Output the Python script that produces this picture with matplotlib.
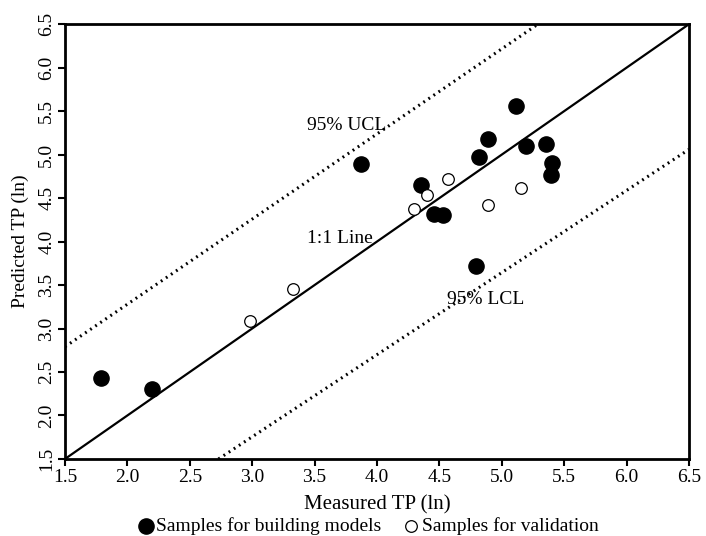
import matplotlib
matplotlib.use("Agg")
import matplotlib.pyplot as plt

plt.rcParams['font.family'] = ['Liberation Serif', 'DejaVu Serif']

# samples used to build the models (filled)
build_x = [1.79, 2.20, 3.87, 4.35, 4.46, 4.53, 4.82, 4.89, 5.11, 5.19, 5.35, 5.40, 5.39, 4.79]
build_y = [2.43, 2.31, 4.89, 4.65, 4.32, 4.31, 4.97, 5.18, 5.56, 5.10, 5.12, 4.90, 4.77, 3.72]

# validation samples (open)
valid_x = [2.98, 3.33, 4.30, 4.40, 4.57, 4.89, 5.15]
valid_y = [3.09, 3.46, 4.37, 4.54, 4.72, 4.42, 4.61]

# reference lines
one_x = [1.5, 6.5]
one_y = [1.5, 6.5]
ucl_x = [1.5, 5.29]
ucl_y = [2.79, 6.5]
lcl_x = [2.73, 6.5]
lcl_y = [1.5, 5.06]

ticks = [1.5, 2.0, 2.5, 3.0, 3.5, 4.0, 4.5, 5.0, 5.5, 6.0, 6.5]

fs = 14

fig = plt.figure(figsize=(7.06, 5.36), dpi=100)
ax = fig.add_axes([0.092, 0.1437, 0.884, 0.8113])

ax.plot(one_x, one_y, color='black', lw=1.6, zorder=2)
ax.plot(ucl_x, ucl_y, color='black', lw=2.2, linestyle=(0, (0.6, 1.4)), zorder=2)
ax.plot(lcl_x, lcl_y, color='black', lw=2.2, linestyle=(0, (0.6, 1.4)), zorder=2)

ax.scatter(build_x, build_y, s=120, c='black', zorder=3,
           label='Samples for building models')
ax.scatter(valid_x, valid_y, s=70, facecolors='white', edgecolors='black',
           linewidths=0.9, zorder=3, label='Samples for validation')

ax.text(3.44, 5.34, '95% UCL', fontsize=fs, va='center')
ax.text(3.44, 4.04, '1:1 Line', fontsize=fs, va='center')
ax.text(4.56, 3.33, '95% LCL', fontsize=fs, va='center')

ax.set_xlim(1.5, 6.5)
ax.set_ylim(1.5, 6.5)
ax.set_xticks(ticks)
ax.set_yticks(ticks)
ax.set_xticklabels([f'{t:.1f}' for t in ticks], fontsize=fs)
ax.set_yticklabels([f'{t:.1f}' for t in ticks], fontsize=fs, rotation=90, va='center')
ax.tick_params(direction='out', length=5, width=1.5, pad=2)
for sp in ax.spines.values():
    sp.set_linewidth(2)

ax.set_xlabel('Measured TP (ln)', fontsize=fs + 1, labelpad=7)
ax.set_ylabel('Predicted TP (ln)', fontsize=fs)
ax.yaxis.set_label_coords(-0.058, 0.5)

fig.legend(loc='lower center', bbox_to_anchor=(0.52, -0.013), ncol=2, frameon=False,
           fontsize=fs, handletextpad=0.05, columnspacing=1.0, handlelength=1.0,
           borderaxespad=0)

fig.savefig('out.png', dpi=100)
